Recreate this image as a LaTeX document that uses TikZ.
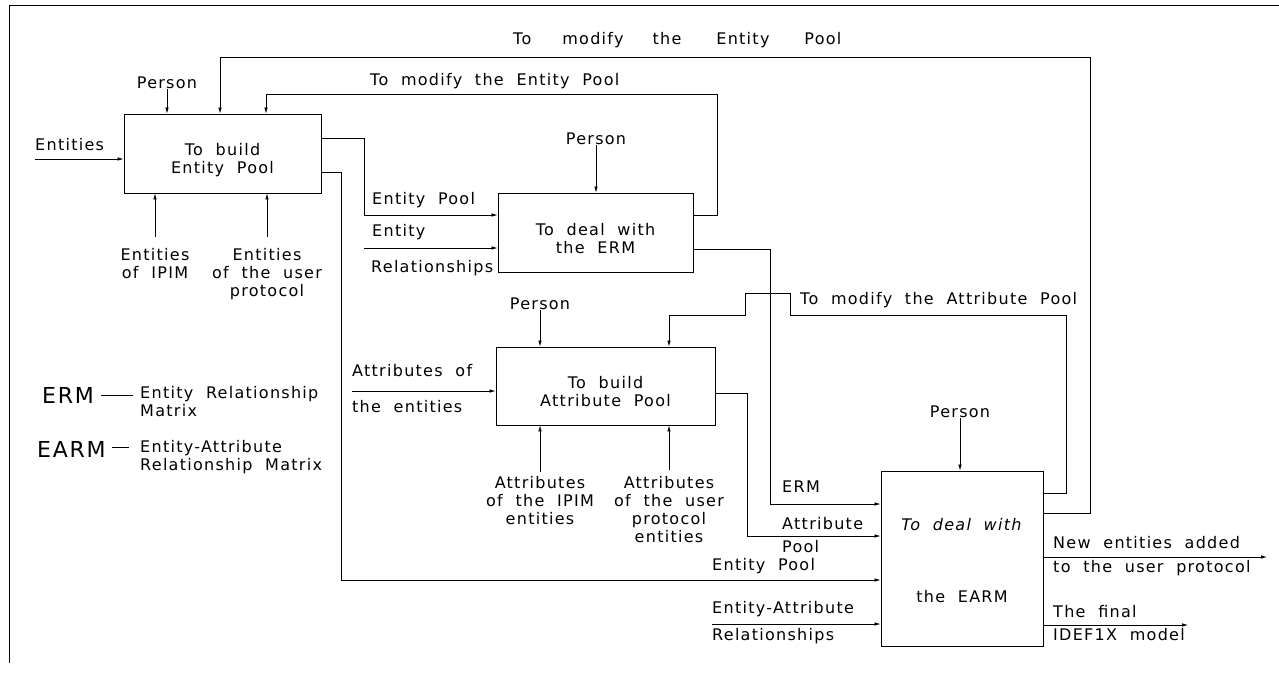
\documentclass[tikz,border=0pt]{standalone}
\usepackage{fontspec}
\setmainfont{DejaVu Sans}[LetterSpace=8,WordSpace=2.0]
\usetikzlibrary{arrows.meta}
\newcommand{\dn}[1]{\rule{0pt}{#1}}
\begin{document}
\begin{tikzpicture}[x=1pt,y=-1pt,
  every node/.style={inner sep=0pt, font=\fontsize{16}{18}\selectfont},
  box/.style={draw, line width=0.8pt, align=center},
  lbl/.style={anchor=west},
  ml/.style={anchor=north, align=center},
  ln/.style={line width=0.7pt},
  arr/.style={line width=0.7pt, -{Latex[length=6pt,width=3.5pt]}},
  big/.style={font=\fontsize{22}{24}\selectfont, anchor=west}]
\useasboundingbox (0,0) rectangle (1279,673);
% frame
\draw[ln] (1279,5) -- (9,5) -- (9,663);
% boxes
\node[box, minimum width=197pt, minimum height=79pt] (b1) at (222.5,153.5) {\dn{26pt}To build\\Entity Pool};
\node[box, minimum width=195pt, minimum height=79pt] (b2) at (595.5,232.5) {\dn{24pt}To deal with\\the ERM};
\node[box, minimum width=219pt, minimum height=78pt] (b3) at (605.5,386) {\dn{24pt}To build\\Attribute Pool};
\node[box, minimum width=162pt, minimum height=175pt] (b4) at (962,558.5) {\dn{16pt}\textit{To deal with}\\[54pt]the EARM};
% persons
\node (p1) at (167,83) {Person};
\node (p2) at (596,139) {Person};
\node (p3) at (540,304) {Person};
\node (p4) at (960,412) {Person};
\draw[arr] (p1.south) -- (p1.south |- b1.north);
\draw[arr] (p2.south) -- (p2.south |- b2.north);
\draw[arr] (p3.south) -- (p3.south |- b3.north);
\draw[arr] (p4.south) -- (p4.south |- b4.north);
% box1 inputs
\coordinate (e1) at (35,159);
\node[lbl] (le1) at (35,145) {Entities};
\draw[arr] (e1) -- (e1 -| b1.west);
\coordinate (c1) at (155,237);
\coordinate (c2) at (267,237);
\draw[arr] (c1) -- (c1 |- b1.south);
\draw[arr] (c2) -- (c2 |- b1.south);
\node[ml] (lc1) at (155,248) {Entities\\of IPIM};
\node[ml] (lc2) at (267,248) {Entities\\of the user\\protocol};
% outer loop
\coordinate (k1) at (1090,513);
\coordinate (o2) at (220,57);
\draw[arr] (k1 -| b4.east) -- (k1) |- (o2) -- (o2 |- b1.north);
\node[lbl] (lo1) at (513,40) {To\hspace{31pt}modify\hspace{29pt}the\hspace{35pt}Entity\hspace{35pt}Pool};
% inner loop
\coordinate (k2) at (717,215);
\coordinate (o3) at (266,94);
\draw[arr] (k2 -| b2.east) -- (k2) |- (o3) -- (o3 |- b1.north);
\node[lbl] (lo2) at (370,81) {To modify the Entity Pool};
% b1 -> b2
\coordinate (k3) at (364,138);
\coordinate (k3b) at (364,215);
\draw[arr] (k3 -| b1.east) -- (k3) -- (k3b) -- (k3b -| b2.west);
\node[lbl] (l3) at (372,200) {Entity Pool};
\coordinate (k4) at (364,248);
\draw[arr] (k4) -- (k4 -| b2.west);
\node[lbl] (l4a) at (372,232) {Entity};
\node[lbl] (l4b) at (371,268) {Relationships};
% b1 -> b4
\coordinate (k5) at (341,172);
\coordinate (k5b) at (341,580);
\draw[arr] (k5 -| b1.east) -- (k5) -- (k5b) -- (k5b -| b4.west);
\node[lbl] (l5) at (712,566) {Entity Pool};
% b2 -> b4 ERM
\coordinate (k6) at (770,249);
\coordinate (k6b) at (770,504);
\draw[arr] (k6 -| b2.east) -- (k6) -- (k6b) -- (k6b -| b4.west);
\node[lbl] (l6) at (782,487) {ERM};
% modify attribute pool
\coordinate (k7) at (1066,493);
\coordinate (k7b) at (1066,315);
\coordinate (o7) at (669,315);
\draw[arr] (k7 -| b4.east) -- (k7) -- (k7b) -- (790,315) -- (790,293) -- (745,293) -- (745,315) -- (o7) -- (o7 |- b3.north);
\node[lbl] (l7) at (800,300) {To modify the Attribute Pool};
% b3 inputs
\coordinate (k8) at (352,391);
\draw[arr] (k8) -- (k8 -| b3.west);
\node[lbl] (l8a) at (352,371) {Attributes of};
\node[lbl] (l8b) at (352,407) {the entities};
\coordinate (c3) at (540,472);
\coordinate (c4) at (669,470);
\draw[arr] (c3) -- (c3 |- b3.south);
\draw[arr] (c4) -- (c4 |- b3.south);
\node[ml] (lc3) at (540,476) {Attributes\\of the IPIM\\entities};
\node[ml] (lc4) at (669,476) {Attributes\\of the user\\protocol\\entities};
% b3 -> b4
\coordinate (k9) at (747,393);
\coordinate (k9b) at (747,536);
\draw[arr] (k9 -| b3.east) -- (k9) -- (k9b) -- (k9b -| b4.west);
\node[lbl] (l9a) at (782,524) {Attribute};
\node[lbl] (l9b) at (782,547) {Pool};
% EA relationships
\coordinate (k10) at (712,624);
\draw[arr] (k10) -- (k10 -| b4.west);
\node[lbl] (l10a) at (712,609) {Entity-Attribute};
\node[lbl] (l10b) at (712,636) {Relationships};
% outputs
\coordinate (k11) at (1267,557);
\draw[arr] (k11 -| b4.east) -- (k11);
\node[lbl] (l11a) at (1053,543) {New entities added};
\node[lbl] (l11b) at (1053,568) {to the user protocol};
\coordinate (k12) at (1188,625);
\draw[arr] (k12 -| b4.east) -- (k12);
\node[lbl] (l12a) at (1053,612) {The final};
\node[lbl] (l12b) at (1053,635) {IDEF1X model};
% legend
\node[big] (erm) at (42,395) {ERM};
\draw[ln] (101,395) -- (133,395);
\node[anchor=north west, align=left] (erml) at (140,386) {Entity Relationship\\Matrix};
\node[big] (earm) at (37,449) {EARM};
\draw[ln] (112,447) -- (129,447);
\node[anchor=north west, align=left] (earml) at (140,440) {Entity-Attribute\\Relationship Matrix};
\end{tikzpicture}
\end{document}
